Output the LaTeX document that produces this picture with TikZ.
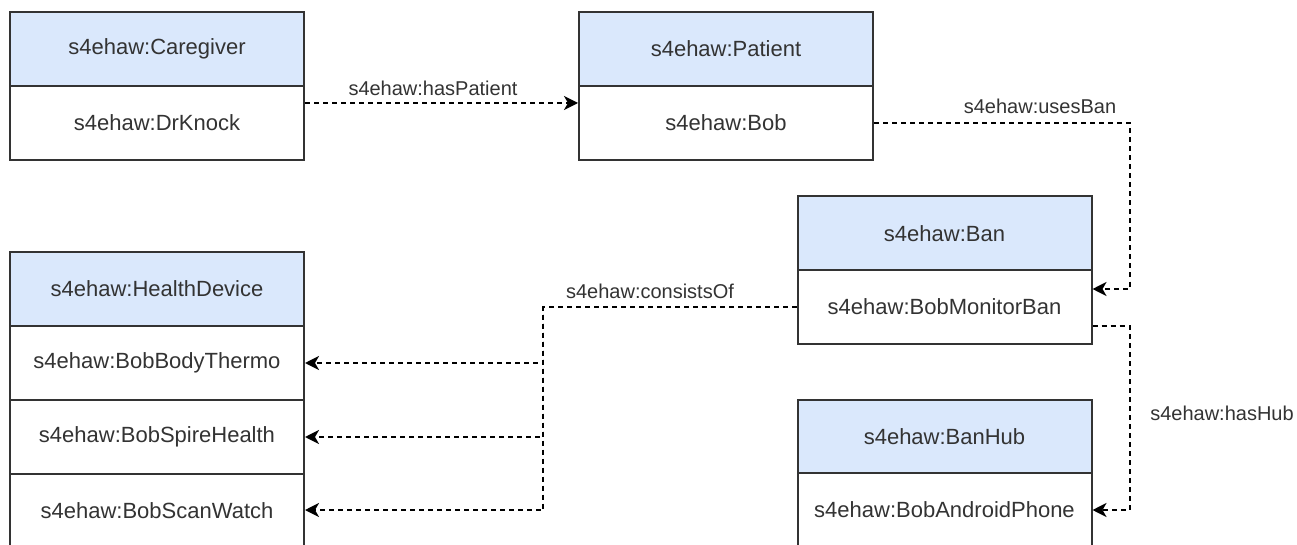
\documentclass[tikz,border=0pt]{standalone}
\usepackage{fontspec}
\setmainfont{Liberation Sans}
\usetikzlibrary{arrows.meta}
\definecolor{hdrfill}{HTML}{DAE8FC}
\definecolor{ink}{HTML}{333333}
\tikzset{
  cell/.style={draw=ink, line width=2pt, minimum width=294pt, minimum height=74pt,
    inner sep=0pt, text=ink, font=\fontsize{22}{26}\selectfont, fill=white},
  hdr/.style={cell, fill=hdrfill},
  rel/.style={draw=black, line width=2pt, dash pattern=on 5pt off 4pt,
    -{Stealth[length=14pt,width=14pt,inset=4pt]}},
  lbl/.style={text=ink, inner sep=0pt, font=\fontsize{20}{24}\selectfont}
}
\begin{document}
\begin{tikzpicture}[x=1pt,y=-1pt]
\useasboundingbox (0,0) rectangle (1297,545);
\clip (0,0) rectangle (1297,545);
\fill[white] (0,0) rectangle (1297,545);

% class / individual boxes
\node[hdr]  (care)   at (157,49)    {s4ehaw:Caregiver};
\node[cell] (knock)  at (157,123)   {s4ehaw:DrKnock};

\node[hdr]  (pat)    at (726,49)    {s4ehaw:Patient};
\node[cell] (bob)    at (726,123)   {s4ehaw:Bob};

\node[hdr]  (ban)    at (944.5,233.5) {s4ehaw:Ban};
\node[cell] (mon)    at (944.5,307)   {s4ehaw:BobMonitorBan};

\node[hdr]  (hub)    at (944.5,436.5) {s4ehaw:BanHub};
\node[cell] (phone)  at (944.5,510)   {s4ehaw:BobAndroidPhone};

\node[hdr]  (hd)     at (157,289)   {s4ehaw:HealthDevice};
\node[cell] (thermo) at (157,363)   {s4ehaw:BobBodyThermo};
\node[cell] (spire)  at (157,437)   {s4ehaw:BobSpireHealth};
\node[cell] (scan)   at (157,511)   {s4ehaw:BobScanWatch};

% relations
\draw[rel] ([yshift=20pt]knock.east) -- ([yshift=20pt]bob.west);
\draw[rel] (bob.east) -| ([xshift=37pt,yshift=18pt]mon.east) -- ([yshift=18pt]mon.east);
\draw[rel] ([yshift=-19pt]mon.east) -| ([xshift=37pt]phone.east) -- (phone.east);
\draw[rel] (mon.west) -| ([xshift=238pt]thermo.east) -- (thermo.east);
\draw[rel] (mon.west) -| ([xshift=238pt]spire.east) -- (spire.east);
\draw[rel] (mon.west) -| ([xshift=238pt,yshift=1pt]scan.east) -- ([yshift=1pt]scan.east);

% relation labels
\node[lbl] (lpat)  at (433,88)   {s4ehaw:hasPatient};
\node[lbl] (luses) at (1040,106) {s4ehaw:usesBan};
\node[lbl] (lcons) at (650,291)  {s4ehaw:consistsOf};
\node[lbl] (lhub)  at (1222,413) {s4ehaw:hasHub};
\end{tikzpicture}
\end{document}
